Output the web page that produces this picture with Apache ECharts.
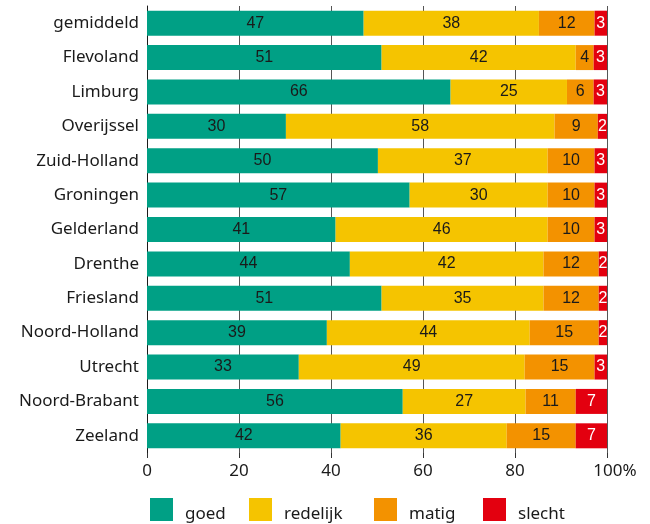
<!DOCTYPE html>
<html>
<head>
<meta charset="utf-8">
<script src="https://cdn.jsdelivr.net/npm/echarts@6/dist/echarts.min.js"></script>
<style>html,body{margin:0;padding:0;background:#fff}#c{width:650px;height:524px}</style>
</head>
<body>
<div id="c"></div>
<script>
const categories = ['gemiddeld','Flevoland','Limburg','Overijssel','Zuid-Holland','Groningen','Gelderland','Drenthe','Friesland','Noord-Holland','Utrecht','Noord-Brabant','Zeeland'];
const goed     = [47.1, 51.0, 66.0, 30.2, 50.2, 57.1, 41.0, 44.1, 51.0, 39.1, 33.0, 55.6, 42.1];
const redelijk = [38.1, 42.2, 25.3, 58.4, 36.9, 30.0, 46.1, 42.1, 35.2, 44.1, 49.1, 26.7, 36.1];
const matig    = [12.1,  3.9,  5.8,  9.4, 10.2, 10.2, 10.2, 12.0, 12.0, 15.0, 15.2, 10.9, 15.0];
const slecht   = [ 2.7,  2.9,  2.9,  2.0,  2.7,  2.7,  2.7,  1.8,  1.8,  1.8,  2.7,  6.8,  6.8];
const seriesNames = ['goed','redelijk','matig','slecht'];
const xTicks = [0, 20, 40, 60, 80, 100];

const colors = ['#00a085','#f5c400','#f39200','#e3000f'];
const labelColors = ['#1a1a1a','#1a1a1a','#1a1a1a','#ffffff'];
const legendLeft = [150, 249, 374, 483];
const font = 'Noto Sans';
const seriesData = [goed, redelijk, matig, slecht];

const chart = echarts.init(document.getElementById('c'));
chart.setOption({
  animation: false,
  color: colors,
  grid: { left: 147, right: 43, top: 6, bottom: 71, containLabel: false },
  xAxis: {
    type: 'value', min: 0, max: 100, interval: 20,
    axisLine: { show: false },
    axisTick: { show: true, length: 5, lineStyle: { color: '#333', width: 1 } },
    splitLine: { show: true, lineStyle: { color: '#555', width: 1 } },
    axisLabel: {
      margin: 10, fontFamily: font, fontSize: 17, color: '#1a1a1a',
      formatter: function (v) { return v === 100 ? '{p|100%}' : String(v); },
      rich: { p: { fontFamily: font, fontSize: 17, color: '#1a1a1a', padding: [0, 0, 0, 16] } }
    }
  },
  yAxis: {
    type: 'category', data: categories, inverse: true,
    axisLine: { show: true, lineStyle: { color: '#1a1a1a', width: 1 } },
    axisTick: { show: false },
    axisLabel: { margin: 8, fontFamily: font, fontSize: 17, color: '#1a1a1a' }
  },
  legend: seriesNames.map((n, i) => ({
    data: [n], left: legendLeft[i], top: 498, icon: 'rect', padding: 0,
    itemWidth: 23, itemHeight: 23,
    formatter: '{t|{name}}',
    textStyle: {
      fontFamily: font, fontSize: 17, color: '#1a1a1a',
      rich: { t: { fontFamily: font, fontSize: 17, color: '#1a1a1a', padding: [10, 0, 0, 7] } }
    }
  })),
  series: seriesNames.map((n, i) => ({
    name: n, type: 'bar', stack: 'total', barWidth: 25,
    data: seriesData[i],
    itemStyle: { color: colors[i] },
    label: {
      show: true, position: 'inside', fontFamily: 'Liberation Sans', fontSize: 16,
      color: labelColors[i],
      formatter: p => String(Math.round(p.value))
    }
  }))
});
</script>
</body>
</html>
